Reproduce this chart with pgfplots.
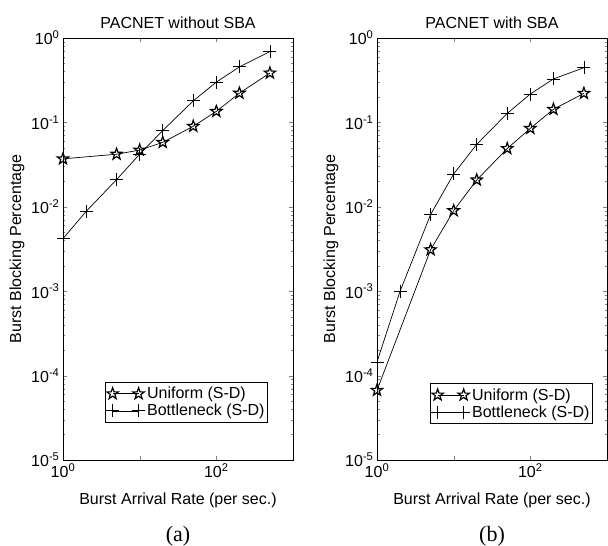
\documentclass[border=0pt]{standalone}
\usepackage{fontspec}
\setmainfont{Liberation Sans}
\newfontfamily\capfont{Liberation Serif}
\usepackage{pgfplots}
\pgfplotsset{compat=1.18}

\pgfdeclareplotmark{pentagram}{%
  \pgfpathmoveto{\pgfpointpolar{90}{\pgfplotmarksize}}%
  \pgfpathlineto{\pgfpointpolar{126}{0.40\pgfplotmarksize}}%
  \pgfpathlineto{\pgfpointpolar{162}{\pgfplotmarksize}}%
  \pgfpathlineto{\pgfpointpolar{198}{0.40\pgfplotmarksize}}%
  \pgfpathlineto{\pgfpointpolar{234}{\pgfplotmarksize}}%
  \pgfpathlineto{\pgfpointpolar{270}{0.40\pgfplotmarksize}}%
  \pgfpathlineto{\pgfpointpolar{306}{\pgfplotmarksize}}%
  \pgfpathlineto{\pgfpointpolar{342}{0.40\pgfplotmarksize}}%
  \pgfpathlineto{\pgfpointpolar{18}{\pgfplotmarksize}}%
  \pgfpathlineto{\pgfpointpolar{54}{0.40\pgfplotmarksize}}%
  \pgfpathclose
  \pgfusepathqstroke
}

\newcommand{\fsT}{\fontsize{16}{18}\selectfont}
\newcommand{\fsL}{\fontsize{16}{18}\selectfont}
\newcommand{\fsTi}{\fontsize{16}{18}\selectfont}
\newcommand{\fsLe}{\fontsize{16}{17}\selectfont}

\pgfplotsset{
  every axis/.append style={
    scale only axis, width=230pt, height=422pt,
    xmin=1, xmax=1000, ymin=1e-5, ymax=1,
    xminorticks=false,
    tick align=inside,
    major tick length=4.5pt, minor tick length=2.5pt,
    axis line style={line width=0.9pt},
    xticklabel style={font=\fsT},
    yticklabel style={font=\fsT},
    label style={font=\fsL},
    xlabel style={yshift=-8pt},
    ylabel style={yshift=0pt},
    title style={font=\fsTi, yshift=0pt},
    legend style={font=\fsLe, draw=black, line width=0.9pt, cells={anchor=west},
      inner xsep=1pt, inner ysep=3pt, row sep=0pt},
  },
  legend image code/.code={%
    \draw[#1, line width=0.7pt] plot coordinates {(0pt,0pt) (26pt,0pt)};},
}

\begin{document}
\begin{tikzpicture}
\useasboundingbox (0,0) rectangle (608pt,546pt);

\begin{loglogaxis}[name=left, at={(63pt,86pt)}, anchor=south west,
  xtick={1,10,100,1000},
  xticklabels={10\textsuperscript{0},,10\textsuperscript{2},},
  ytick={1e-5,1e-4,1e-3,1e-2,1e-1,1},
  yticklabels={10\textsuperscript{-5},10\textsuperscript{-4},10\textsuperscript{-3},10\textsuperscript{-2},10\textsuperscript{-1},10\textsuperscript{0}},
  xlabel={Burst Arrival Rate (per sec.)},
  ylabel={Burst Blocking Percentage},
  title={PACNET without SBA},
  legend style={at={(0.891,0.088)}, anchor=south east}]
\addplot[black, line width=0.7pt, mark=pentagram, mark size=6pt,
    mark options={line width=1.2pt, solid}] coordinates {
 (1,0.037) (5,0.042) (10,0.047) (20,0.058) (50,0.090) (100,0.135) (200,0.222) (500,0.385)};
\addlegendentry{Uniform (S-D)}
\addplot[black, line width=0.7pt, mark=+, mark size=6.5pt,
    mark options={line width=0.8pt, solid}] coordinates {
 (1,0.0042) (2,0.0088) (5,0.021) (10,0.042) (20,0.080) (50,0.180) (100,0.300) (200,0.455) (500,0.69)};
\addlegendentry{Bottleneck (S-D)}
\end{loglogaxis}

\begin{loglogaxis}[name=right, at={(377pt,86pt)}, anchor=south west,
  xtick={1,10,100,1000},
  xticklabels={10\textsuperscript{0},,10\textsuperscript{2},},
  ytick={1e-5,1e-4,1e-3,1e-2,1e-1,1},
  yticklabels={10\textsuperscript{-5},10\textsuperscript{-4},10\textsuperscript{-3},10\textsuperscript{-2},10\textsuperscript{-1},10\textsuperscript{0}},
  xlabel={Burst Arrival Rate (per sec.)},
  ylabel={Burst Blocking Percentage},
  title={PACNET with SBA},
  legend style={at={(0.939,0.085)}, anchor=south east}]
\addplot[black, line width=0.7pt, mark=pentagram, mark size=6pt,
    mark options={line width=1.2pt, solid}] coordinates {
 (1,6.7e-5) (5,0.0031) (10,0.0090) (20,0.0208) (50,0.049) (100,0.085) (200,0.143) (500,0.221)};
\addlegendentry{Uniform (S-D)}
\addplot[black, line width=0.7pt, mark=+, mark size=6.5pt,
    mark options={line width=0.8pt, solid}] coordinates {
 (1,1.45e-4) (2,0.0010) (5,0.0081) (10,0.0245) (20,0.055) (50,0.128) (100,0.217) (200,0.327) (500,0.445)};
\addlegendentry{Bottleneck (S-D)}
\end{loglogaxis}

\node[font=\capfont\fontsize{22}{24}\selectfont] at ([yshift=-76pt]left.south) {(a)};
\node[font=\capfont\fontsize{22}{24}\selectfont] at ([yshift=-76pt]right.south) {(b)};
\end{tikzpicture}
\end{document}
